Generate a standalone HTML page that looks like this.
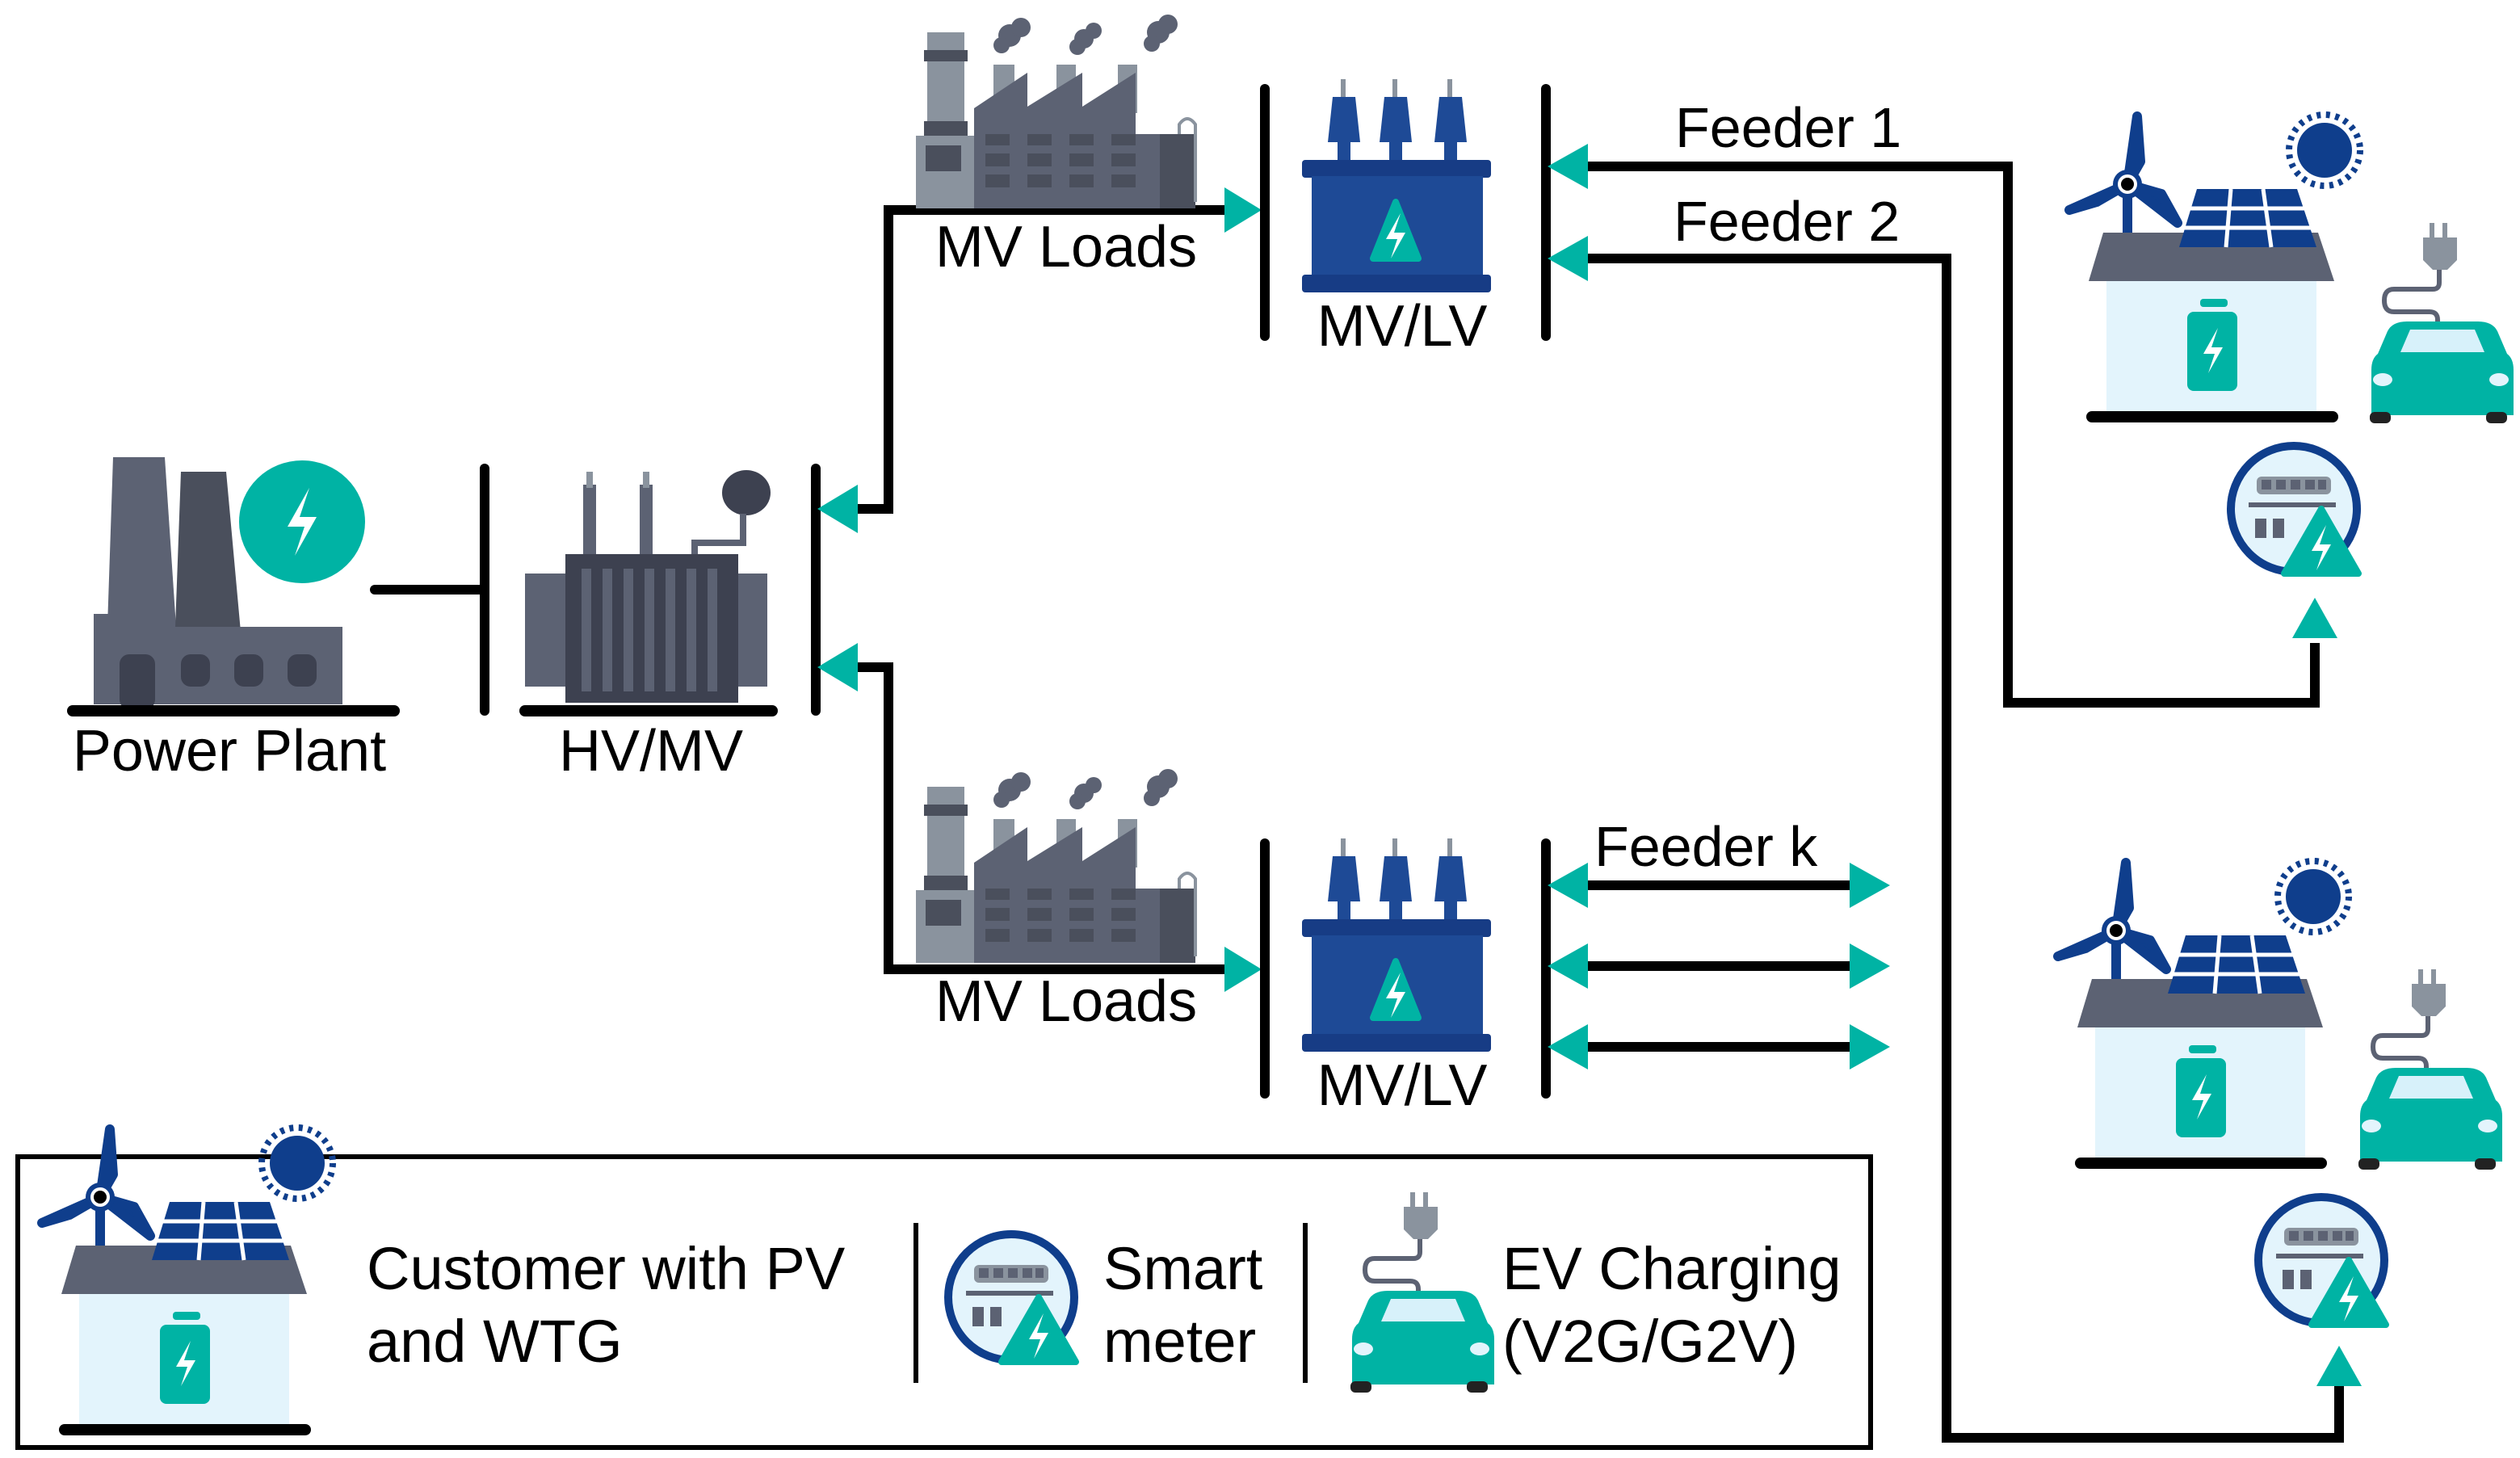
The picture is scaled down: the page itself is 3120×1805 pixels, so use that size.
<!DOCTYPE html>
<html><head><meta charset="utf-8"><style>
html,body{margin:0;padding:0;background:#fff;}
svg{display:block;}
text{font-family:"Liberation Sans",sans-serif;fill:#000;}
</style></head><body>
<svg width="3120" height="1805" viewBox="0 0 1560 902.5" xmlns="http://www.w3.org/2000/svg">
<defs>
  <path id="bolt" d="M3,-14 L-6,2 L1,2 L-3,14 L6,-2 L-1,-2 Z" fill="#fff"/>
  <g id="factory">
    <g fill="#5c6273">
      <circle cx="55" cy="22" r="7"/><circle cx="62" cy="17" r="6"/><circle cx="50" cy="28" r="5"/>
      <circle cx="101" cy="24" r="6"/><circle cx="107" cy="19" r="5"/><circle cx="97" cy="29" r="5"/>
      <circle cx="147" cy="20" r="7"/><circle cx="153" cy="15" r="6"/><circle cx="143" cy="27" r="5"/>
    </g>
    <rect x="45" y="40" width="13" height="30" fill="#8a939e"/>
    <rect x="84" y="40" width="12" height="30" fill="#8a939e"/>
    <rect x="122" y="40" width="12" height="30" fill="#8a939e"/>
    <rect x="4" y="20" width="23" height="70" fill="#8a939e"/>
    <rect x="2" y="31" width="27" height="7" fill="#4a4f5c"/>
    <rect x="2" y="75" width="27" height="9" fill="#4a4f5c"/>
    <rect x="-3" y="84" width="36" height="45" fill="#8a939e"/>
    <rect x="3" y="90" width="22" height="16" fill="#4a4f5c"/>
    <polygon points="33,67 66,45 66,66 100,45 100,66 133,45 133,83 148,83 148,129 33,129" fill="#5c6273"/>
    <rect x="148" y="83" width="22" height="46" fill="#4a4f5c"/>
    <path d="M160,83 V77 Q165,70 170,77 V125" fill="none" stroke="#8a939e" stroke-width="2"/>
    <g fill="#4a4f5c">
      <rect x="40" y="83" width="15" height="7"/><rect x="66" y="83" width="15" height="7"/><rect x="92" y="83" width="15" height="7"/><rect x="118" y="83" width="15" height="7"/>
      <rect x="40" y="95" width="15" height="8"/><rect x="66" y="95" width="15" height="8"/><rect x="92" y="95" width="15" height="8"/><rect x="118" y="95" width="15" height="8"/>
      <rect x="40" y="108" width="15" height="8"/><rect x="66" y="108" width="15" height="8"/><rect x="92" y="108" width="15" height="8"/><rect x="118" y="108" width="15" height="8"/>
    </g>
  </g>
  <g id="mvlv">
    <g fill="#1e4a96">
      <rect x="30" y="49" width="3" height="12" fill="#8a939e"/>
      <rect x="62" y="49" width="3" height="12" fill="#8a939e"/>
      <rect x="96" y="49" width="3" height="12" fill="#8a939e"/>
      <path d="M25,60 h14 l3,28 h-20 z"/><rect x="28" y="86" width="8" height="14"/>
      <path d="M57,60 h14 l3,28 h-20 z"/><rect x="60" y="86" width="8" height="14"/>
      <path d="M91,60 h14 l3,28 h-20 z"/><rect x="94" y="86" width="8" height="14"/>
    </g>
    <rect x="6" y="99" width="117" height="11" rx="2" fill="#173c85"/>
    <rect x="12" y="109" width="106" height="62" fill="#1e4a96"/>
    <rect x="6" y="170" width="117" height="11" rx="2" fill="#173c85"/>
    <path d="M64,125 L78,160 H50 Z" fill="#00b3a4" stroke="#00b3a4" stroke-width="4" stroke-linejoin="round"/>
    <use href="#bolt" x="64" y="146"/>
  </g>
  <g id="house">
    <rect x="61" y="62" width="6" height="28" fill="#0f3e8c"/>
    <path d="M64,59 L70,17 L72,45 Z M64,59 L28,75 L45,70 Z M64,59 L95,83 L85,65 Z" fill="#0f3e8c" stroke="#0f3e8c" stroke-width="6" stroke-linejoin="round"/>
    <circle cx="64" cy="59" r="9" fill="#0f3e8c"/><circle cx="64" cy="59" r="6" fill="#fff"/><circle cx="64" cy="59" r="4" fill="#000"/>
    <circle cx="186" cy="38" r="17" fill="#0f3e8c"/>
    <circle cx="186" cy="38" r="22" fill="none" stroke="#0f3e8c" stroke-width="4" stroke-dasharray="2.5 3.3"/>
    <rect x="51" y="119" width="130" height="81" fill="#e3f4fc"/>
    <polygon points="40,119 49,89 182,89 192,119" fill="#5c6273"/>
    <polygon points="107,62 169,62 181,98 96,98" fill="#0f3e8c"/>
    <path d="M101,74 H174 M98,86 H178 M128,62 L125,98 M148,62 L153,98" stroke="#fff" stroke-width="2.5"/>
    <rect x="109" y="130" width="17" height="5" rx="2" fill="#00b3a4"/>
    <rect x="101" y="138" width="31" height="49" rx="4" fill="#00b3a4"/>
    <use href="#bolt" x="117" y="162"/>
    <line x1="42" y1="203" x2="191" y2="203" stroke="#000" stroke-width="7" stroke-linecap="round"/>
  </g>
  <g id="car">
    <rect x="251" y="83" width="3" height="9" fill="#8a939e"/><rect x="259" y="83" width="3" height="9" fill="#8a939e"/>
    <path d="M247,92 h21 v14 l-6,6 h-9 l-6,-6 z" fill="#8a939e"/>
    <path d="M257,112 v8 q0,4 -4,4 h-24 q-6,0 -6,7 q0,7 6,7 h22 q5,0 5,5 v3" fill="none" stroke="#5c6273" stroke-width="3"/>
    <path d="M225,150 q3,-6 12,-6 h44 q9,0 12,6 l6,14 q4,3 4,10 v28 h-88 v-28 q0,-7 4,-10 z" fill="#00b3a4"/>
    <path d="M233,163 l6,-14 h40 l6,14 z" fill="#d7f1fa"/>
    <ellipse cx="222" cy="180" rx="6" ry="4" fill="#e3f4fc"/><ellipse cx="294" cy="180" rx="6" ry="4" fill="#e3f4fc"/>
    <rect x="214" y="200" width="13" height="7" rx="3" fill="#222"/><rect x="286" y="200" width="13" height="7" rx="3" fill="#222"/>
  </g>
  <g id="meter">
    <circle cx="0" cy="0" r="39" fill="#e3f4fc" stroke="#0f3e8c" stroke-width="5"/>
    <rect x="-23" y="-20" width="46" height="11" rx="3" fill="#8a939e"/>
    <g fill="#5c6273"><rect x="-20" y="-18" width="6" height="6"/><rect x="-11" y="-18" width="6" height="6"/><rect x="-2" y="-18" width="6" height="6"/><rect x="7" y="-18" width="6" height="6"/><rect x="15" y="-18" width="5" height="6"/></g>
    <rect x="-28" y="-4" width="54" height="3" fill="#5c6273"/>
    <rect x="-24" y="6" width="7" height="12" fill="#5c6273"/><rect x="-13" y="6" width="7" height="12" fill="#5c6273"/>
    <path d="M17,0 L40,40 H-6 Z" fill="#00b3a4" stroke="#00b3a4" stroke-width="4" stroke-linejoin="round"/>
    <use href="#bolt" x="17" y="24"/>
  </g>
</defs>

<!-- Power plant -->
<path d="M70,283 h32 l8,120 h-44 z" fill="#5c6273"/>
<path d="M112,292 h28 l10,110 h-42 z" fill="#4a4f5c"/>
<rect x="80" y="388" width="132" height="48" fill="#5c6273"/>
<rect x="58" y="380" width="40" height="56" fill="#5c6273"/>
<rect x="74" y="405" width="22" height="34" rx="6" fill="#3d4150"/>
<rect x="112" y="405" width="18" height="20" rx="6" fill="#3d4150"/>
<rect x="145" y="405" width="18" height="20" rx="6" fill="#3d4150"/>
<rect x="178" y="405" width="18" height="20" rx="6" fill="#3d4150"/>
<ellipse cx="187" cy="323" rx="39" ry="38" fill="#00b3a4"/>
<use href="#bolt" x="187" y="323" transform="translate(-93.5 -161.5) scale(1.5)"/>
<line x1="45" y1="440" x2="244" y2="440" stroke="#000" stroke-width="7" stroke-linecap="round"/>
<text x="142" y="477" font-size="36" text-anchor="middle">Power Plant</text>
<line x1="232" y1="365" x2="300" y2="365" stroke="#000" stroke-width="6" stroke-linecap="round"/>
<line x1="300" y1="290" x2="300" y2="440" stroke="#000" stroke-width="6" stroke-linecap="round"/>

<!-- HV/MV transformer -->
<rect x="361" y="300" width="8" height="48" fill="#5c6273"/><rect x="396" y="300" width="8" height="48" fill="#5c6273"/>
<rect x="363" y="292" width="4" height="10" fill="#8a939e"/><rect x="398" y="292" width="4" height="10" fill="#8a939e"/>
<ellipse cx="462" cy="305" rx="15" ry="14" fill="#3d4150"/>
<path d="M430,348 v-12 h30 v-18" fill="none" stroke="#5c6273" stroke-width="4"/>
<rect x="325" y="355" width="150" height="70" fill="#5c6273"/>
<rect x="350" y="343" width="107" height="92" fill="#3d4150"/>
<g stroke="#5c6273" stroke-width="6"><line x1="363" y1="352" x2="363" y2="428"/><line x1="376" y1="352" x2="376" y2="428"/><line x1="389" y1="352" x2="389" y2="428"/><line x1="402" y1="352" x2="402" y2="428"/><line x1="415" y1="352" x2="415" y2="428"/><line x1="428" y1="352" x2="428" y2="428"/><line x1="441" y1="352" x2="441" y2="428"/></g>
<line x1="325" y1="440" x2="478" y2="440" stroke="#000" stroke-width="7" stroke-linecap="round"/>
<text x="403" y="477" font-size="36" text-anchor="middle">HV/MV</text>
<line x1="505" y1="290" x2="505" y2="440" stroke="#000" stroke-width="6" stroke-linecap="round"/>

<path d="M528,315 H550 V130 H760" fill="none" stroke="#000" stroke-width="6"/>
<path d="M528,413 H550 V600 H760" fill="none" stroke="#000" stroke-width="6"/>
<g fill="#00b3a4">
  <polygon points="506,315 531,300 531,330"/>
  <polygon points="506,413 531,398 531,428"/>
  <polygon points="781,130 758,116 758,144"/>
  <polygon points="781,600 758,586 758,614"/>
</g>

<use href="#factory" x="570" y="0"/>
<use href="#factory" x="570" y="467"/>
<text x="660" y="165" font-size="36" text-anchor="middle">MV Loads</text>
<text x="660" y="632" font-size="36" text-anchor="middle">MV Loads</text>

<line x1="783" y1="55" x2="783" y2="208" stroke="#000" stroke-width="6" stroke-linecap="round"/>
<line x1="783" y1="522" x2="783" y2="677" stroke="#000" stroke-width="6" stroke-linecap="round"/>
<use href="#mvlv" x="800" y="0"/>
<use href="#mvlv" x="800" y="470"/>
<text x="868" y="214" font-size="36" text-anchor="middle">MV/LV</text>
<text x="868" y="684" font-size="36" text-anchor="middle">MV/LV</text>
<line x1="957" y1="55" x2="957" y2="208" stroke="#000" stroke-width="6" stroke-linecap="round"/>
<line x1="957" y1="522" x2="957" y2="677" stroke="#000" stroke-width="6" stroke-linecap="round"/>

<path d="M980,103 H1243 V435 H1433 V398" fill="none" stroke="#000" stroke-width="6"/>
<path d="M980,160 H1205 V890 H1448 V858" fill="none" stroke="#000" stroke-width="6"/>
<g fill="#00b3a4">
  <polygon points="958,103 983,89 983,117"/>
  <polygon points="958,160 983,146 983,174"/>
  <polygon points="1433,370 1419,395 1447,395"/>
  <polygon points="1448,833 1434,858 1462,858"/>
</g>
<text x="1037" y="91" font-size="35">Feeder 1</text>
<text x="1036" y="149" font-size="35">Feeder 2</text>
<text x="987" y="536" font-size="35">Feeder k</text>
<g stroke="#000" stroke-width="6">
  <line x1="980" y1="548" x2="1148" y2="548"/>
  <line x1="980" y1="598" x2="1148" y2="598"/>
  <line x1="980" y1="648" x2="1148" y2="648"/>
</g>
<g fill="#00b3a4">
  <polygon points="958,548 983,534 983,562"/><polygon points="1170,548 1145,534 1145,562"/>
  <polygon points="958,598 983,584 983,612"/><polygon points="1170,598 1145,584 1145,612"/>
  <polygon points="958,648 983,634 983,662"/><polygon points="1170,648 1145,634 1145,662"/>
</g>

<use href="#house" x="1253" y="55"/>
<use href="#car" x="1253" y="55"/>
<use href="#meter" x="1420" y="315"/>
<use href="#house" x="1246" y="517"/>
<use href="#car" x="1246" y="517"/>
<use href="#meter" x="1437" y="780"/>

<rect x="11" y="716" width="1147" height="180" fill="none" stroke="#000" stroke-width="3"/>
<use href="#house" x="-2" y="682"/>
<text x="227" y="798" font-size="37">Customer with PV</text>
<text x="227" y="843" font-size="37">and WTG</text>
<line x1="567" y1="757" x2="567" y2="856" stroke="#000" stroke-width="3"/>
<use href="#meter" x="626" y="803"/>
<text x="683" y="798" font-size="37">Smart</text>
<text x="683" y="843" font-size="37">meter</text>
<line x1="808" y1="757" x2="808" y2="856" stroke="#000" stroke-width="3"/>
<use href="#car" x="622" y="655"/>
<text x="930" y="798" font-size="37">EV Charging</text>
<text x="930" y="843" font-size="37">(V2G/G2V)</text>
</svg>
</body></html>
